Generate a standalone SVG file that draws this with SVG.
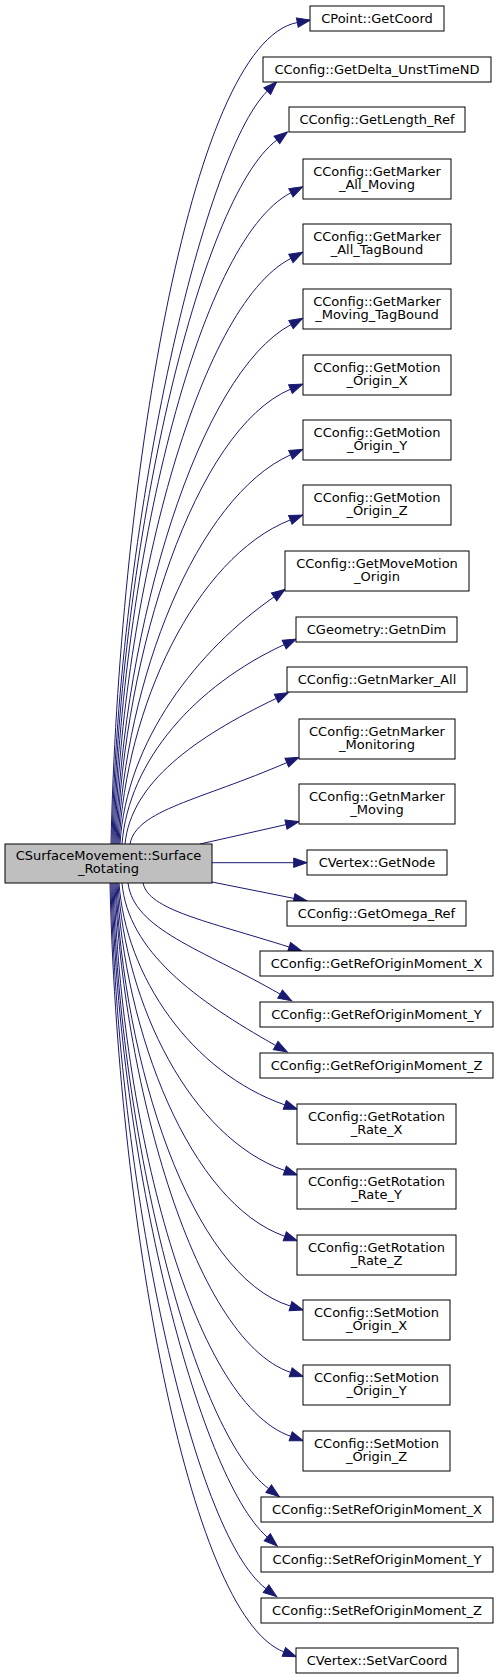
<svg xmlns="http://www.w3.org/2000/svg" width="500" height="1680" viewBox="0 0 500 1680">
<style>
.n rect{fill:#ffffff;stroke:#000000;stroke-width:1}
.n.main rect{fill:#bfbfbf}
.n text{font-family:"DejaVu Sans","Liberation Sans",sans-serif;font-size:13px;fill:#000000;text-anchor:middle}
.e path{fill:none;stroke:#191970;stroke-width:1;marker-end:url(#ah)}
</style>
<defs>
<marker id="ah" markerUnits="userSpaceOnUse" markerWidth="14" markerHeight="10" refX="0" refY="4.7" orient="auto" overflow="visible">
<path d="M0,0 L13.3,4.7 L0,9.4 z" fill="#191970" stroke="#191970" stroke-width="1"/>
</marker>
</defs>
<rect width="500" height="1680" fill="#ffffff"/>
<g id="edges" class="e">
<path d="M111,844 C118.5,499 187.7,43.7 297.3,22.5"/>
<path d="M112,844 C118.2,527.8 201.4,157 267.3,91.1"/>
<path d="M113,844 C119.6,548.3 198.3,199 276.9,140"/>
<path d="M114,844 C121.1,570.5 196.5,241.6 290.9,192.8"/>
<path d="M115,844 C122,598 197,306.9 290.9,258.4"/>
<path d="M116,844 C123,625.9 198.6,374 291,324.6"/>
<path d="M117,844 C123.9,653 194.7,429.8 290.5,389.2"/>
<path d="M118,844 C124.9,680.5 196.3,497.3 290.6,454.8"/>
<path d="M119,844 C125.9,707.9 194.7,557.9 290.3,519.9"/>
<path d="M120,844 C126.2,740.2 198.2,649.6 274.1,596.9"/>
<path d="M122,844 C128.5,760.3 195.7,685.5 284.2,644.6"/>
<path d="M125,844 C131,782.8 194.6,737.4 276.3,698.4"/>
<path d="M130,844 C136.3,809.8 200.2,800.2 286.8,762.6"/>
<path d="M200,844 L286,824.6"/>
<path d="M212,862.7 L293.7,862.7"/>
<path d="M212,882 L294,898.4"/>
<path d="M143,883 C148.8,909.9 205.8,920.7 289.1,947"/>
<path d="M128,883 C134.1,929.7 200.7,948.4 280.1,994.1"/>
<path d="M122,883 C128.1,951.3 195.5,1000.3 275.7,1045.5"/>
<path d="M119,883 C125.6,976.2 191.3,1072.1 284.8,1104.9"/>
<path d="M118,883 C124.7,1003.8 190.7,1137.6 284.8,1170.6"/>
<path d="M117,883 C123.7,1031.4 190.1,1203.1 284.8,1236.3"/>
<path d="M116,883 C123,1060.7 190,1275.7 290.5,1306.1"/>
<path d="M115,883 C122,1068.5 190.6,1338.7 290.7,1372.4"/>
<path d="M114,883 C121.1,1115.4 190,1401.3 290.7,1436.3"/>
<path d="M113,883 C119.2,1137.4 194,1432.7 268.7,1488.7"/>
<path d="M112,883 C118.2,1157.8 197.4,1475.7 267.3,1537.2"/>
<path d="M111,883 C117.2,1179.4 191.6,1532.8 266.1,1588.7"/>
<path d="M110,883 C117,1205.9 186.9,1614.4 283.9,1651.9"/>
</g>
<g id="main" class="n main"><rect x="5" y="844" width="207" height="39"/><text x="108.5" y="859.5">CSurfaceMovement::Surface</text><text x="108.5" y="872.8">_Rotating</text></g>
<g id="n1" class="n"><rect x="310" y="6" width="134" height="25"/><text x="377" y="22.5">CPoint::GetCoord</text></g>
<g id="n2" class="n"><rect x="263" y="57" width="228" height="25"/><text x="377" y="73.5">CConfig::GetDelta_UnstTimeND</text></g>
<g id="n3" class="n"><rect x="289" y="107" width="176" height="25"/><text x="377" y="123.5">CConfig::GetLength_Ref</text></g>
<g id="n4" class="n"><rect x="303" y="159" width="148" height="40"/><text x="377" y="176.2">CConfig::GetMarker</text><text x="377" y="189.3">_All_Moving</text></g>
<g id="n5" class="n"><rect x="303" y="224" width="148" height="40"/><text x="377" y="241.2">CConfig::GetMarker</text><text x="377" y="254.3">_All_TagBound</text></g>
<g id="n6" class="n"><rect x="303" y="289" width="148" height="40"/><text x="377" y="306.2">CConfig::GetMarker</text><text x="377" y="319.3">_Moving_TagBound</text></g>
<g id="n7" class="n"><rect x="303" y="355" width="148" height="40"/><text x="377" y="372.2">CConfig::GetMotion</text><text x="377" y="385.3">_Origin_X</text></g>
<g id="n8" class="n"><rect x="303" y="420" width="148" height="40"/><text x="377" y="437.2">CConfig::GetMotion</text><text x="377" y="450.3">_Origin_Y</text></g>
<g id="n9" class="n"><rect x="303" y="485" width="148" height="40"/><text x="377" y="502.2">CConfig::GetMotion</text><text x="377" y="515.3">_Origin_Z</text></g>
<g id="n10" class="n"><rect x="285" y="551" width="184" height="40"/><text x="377" y="568.2">CConfig::GetMoveMotion</text><text x="377" y="581.3">_Origin</text></g>
<g id="n11" class="n"><rect x="296" y="617" width="161" height="25"/><text x="376.5" y="633.5">CGeometry::GetnDim</text></g>
<g id="n12" class="n"><rect x="287" y="667" width="180" height="25"/><text x="377" y="683.5">CConfig::GetnMarker_All</text></g>
<g id="n13" class="n"><rect x="299" y="719" width="156" height="40"/><text x="377" y="736.2">CConfig::GetnMarker</text><text x="377" y="749.3">_Monitoring</text></g>
<g id="n14" class="n"><rect x="299" y="784" width="156" height="40"/><text x="377" y="801.2">CConfig::GetnMarker</text><text x="377" y="814.3">_Moving</text></g>
<g id="n15" class="n"><rect x="307" y="850" width="140" height="25"/><text x="377" y="866.5">CVertex::GetNode</text></g>
<g id="n16" class="n"><rect x="287" y="901" width="179" height="25"/><text x="376.5" y="917.5">CConfig::GetOmega_Ref</text></g>
<g id="n17" class="n"><rect x="260" y="951" width="233" height="25"/><text x="376.5" y="967.5">CConfig::GetRefOriginMoment_X</text></g>
<g id="n18" class="n"><rect x="260" y="1002" width="233" height="25"/><text x="376.5" y="1018.5">CConfig::GetRefOriginMoment_Y</text></g>
<g id="n19" class="n"><rect x="260" y="1053" width="233" height="25"/><text x="376.5" y="1069.5">CConfig::GetRefOriginMoment_Z</text></g>
<g id="n20" class="n"><rect x="297" y="1104" width="159" height="40"/><text x="376.5" y="1121.2">CConfig::GetRotation</text><text x="376.5" y="1134.3">_Rate_X</text></g>
<g id="n21" class="n"><rect x="297" y="1169" width="159" height="40"/><text x="376.5" y="1186.2">CConfig::GetRotation</text><text x="376.5" y="1199.3">_Rate_Y</text></g>
<g id="n22" class="n"><rect x="297" y="1235" width="159" height="40"/><text x="376.5" y="1252.2">CConfig::GetRotation</text><text x="376.5" y="1265.3">_Rate_Z</text></g>
<g id="n23" class="n"><rect x="303" y="1300" width="147" height="40"/><text x="376.5" y="1317.2">CConfig::SetMotion</text><text x="376.5" y="1330.3">_Origin_X</text></g>
<g id="n24" class="n"><rect x="303" y="1365" width="147" height="40"/><text x="376.5" y="1382.2">CConfig::SetMotion</text><text x="376.5" y="1395.3">_Origin_Y</text></g>
<g id="n25" class="n"><rect x="303" y="1431" width="147" height="40"/><text x="376.5" y="1448.2">CConfig::SetMotion</text><text x="376.5" y="1461.3">_Origin_Z</text></g>
<g id="n26" class="n"><rect x="261" y="1497" width="232" height="25"/><text x="377" y="1513.5">CConfig::SetRefOriginMoment_X</text></g>
<g id="n27" class="n"><rect x="261" y="1547" width="232" height="25"/><text x="377" y="1563.5">CConfig::SetRefOriginMoment_Y</text></g>
<g id="n28" class="n"><rect x="261" y="1598" width="232" height="25"/><text x="377" y="1614.5">CConfig::SetRefOriginMoment_Z</text></g>
<g id="n29" class="n"><rect x="296" y="1648" width="162" height="25"/><text x="377" y="1664.5">CVertex::SetVarCoord</text></g>
</svg>
